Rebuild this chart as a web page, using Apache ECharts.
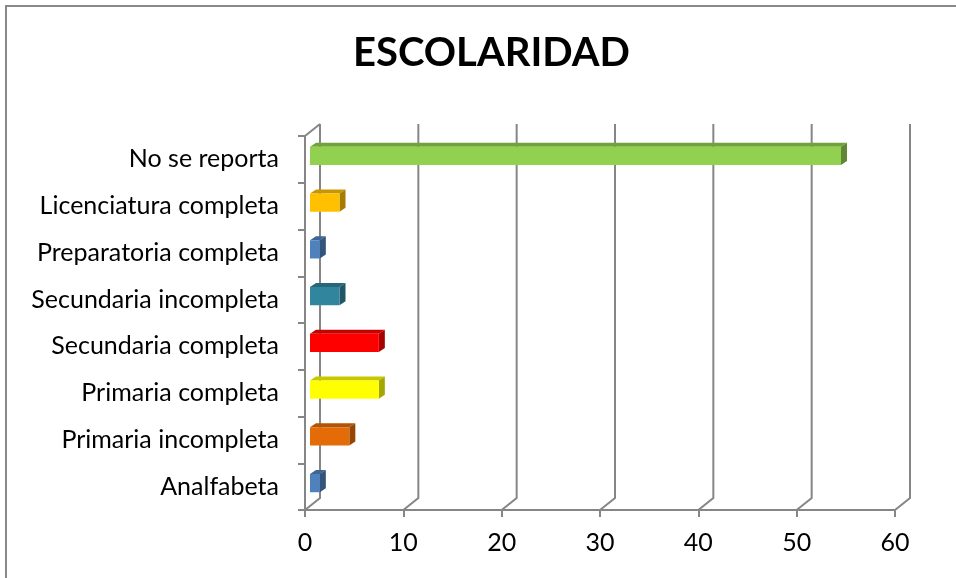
<!DOCTYPE html>
<html>
<head>
<meta charset="utf-8">
<script src="https://cdn.jsdelivr.net/npm/echarts@6/dist/echarts.min.js"></script>
<style>
  html, body { margin: 0; padding: 0; background: #fff; }
  #chart { width: 956px; height: 578px; }
</style>
</head>
<body>
<div id="chart"></div>
<script>
// categories bottom to top
const categories = ['Analfabeta', 'Primaria incompleta', 'Primaria completa', 'Secundaria completa',
  'Secundaria incompleta', 'Preparatoria completa', 'Licenciatura completa', 'No se reporta']
const values = [1, 4, 7, 7, 3, 1, 3, 54]
const barColors = ['#4F81BD', '#E36C09', '#FFFF00', '#FF0000', '#31859C', '#4F81BD', '#FFC000', '#92D050']
const xTicks = [0, 10, 20, 30, 40, 50, 60]

const DX = 15, DY = -12   // back wall offset
const BX = 6, BY = -4     // bar depth

function shade(hex, f) {
  let n = parseInt(hex.slice(1), 16)
  let r = Math.round(((n >> 16) & 255) * f)
  let g = Math.round(((n >> 8) & 255) * f)
  let b = Math.round((n & 255) * f)
  return 'rgb(' + r + ',' + g + ',' + b + ')'
}

let chart = echarts.init(document.getElementById('chart'))
let font = 'Lato, "Open Sans", sans-serif'

let options = {
  backgroundColor: '#fff',
  animation: false,
  title: {
    text: 'ESCOLARIDAD',
    left: 348,
    top: 28,
    textStyle: { fontSize: 40, fontWeight: 'bold', color: '#000', fontFamily: font }
  },
  graphic: [{
    type: 'polyline',
    shape: { points: [[6, 578], [6, 6], [956, 6]] },
    style: { stroke: '#898989', lineWidth: 2, fill: null }
  }],
  grid: { left: 305, right: 61, top: 136, bottom: 68 },
  xAxis: {
    type: 'value',
    min: 0, max: 60, interval: 10,
    axisLine: { show: true, lineStyle: { color: '#868686', width: 2 } },
    axisTick: { show: true, length: 7, lineStyle: { color: '#868686', width: 2 } },
    splitLine: { show: false },
    axisLabel: { fontSize: 25, color: '#000', fontFamily: font, margin: 20 }
  },
  yAxis: {
    type: 'category',
    data: categories,
    axisLine: { show: true, lineStyle: { color: '#868686', width: 2 } },
    axisTick: { show: true, length: 7, lineStyle: { color: '#868686', width: 2 } },
    axisLabel: { fontSize: 25, color: '#000', fontFamily: font, margin: 26 }
  },
  series: [
    {
      // back wall grid lines
      type: 'custom',
      data: xTicks.map(t => [t]),
      silent: true,
      z: 1,
      renderItem: function (params, api) {
        let x = api.coord([api.value(0), 0])[0]
        let yb = params.coordSys.y + params.coordSys.height
        let yt = params.coordSys.y
        let children = [{
          type: 'polyline',
          shape: { points: [[x, yb], [x + DX, yb + DY], [x + DX, yt + DY]] },
          style: { stroke: '#868686', lineWidth: 2, fill: null }
        }]
        if (api.value(0) === 0) {
          children.push({
            type: 'line',
            shape: { x1: x, y1: yt, x2: x + DX, y2: yt + DY },
            style: { stroke: '#868686', lineWidth: 2 }
          })
        }
        return { type: 'group', children: children }
      }
    },
    {
      type: 'custom',
      data: values.map((v, i) => [v, i]),
      z: 3,
      renderItem: function (params, api) {
        let i = api.value(1)
        let p0 = api.coord([0, i])
        let p1 = api.coord([api.value(0), i])
        let band = api.size([0, 1])[1]
        let h = band * 0.39
        let x0 = p0[0] + 5, x1 = p1[0] + 5
        let yc = p0[1] - 3.5
        let y0 = yc - h / 2, y1 = yc + h / 2
        let c = barColors[i]
        return {
          type: 'group',
          children: [
            {
              type: 'polygon',
              shape: { points: [[x0, y0], [x0 + BX, y0 + BY], [x1 + BX, y0 + BY], [x1, y0]] },
              style: { fill: shade(c, 0.78) }
            },
            {
              type: 'polygon',
              shape: { points: [[x1, y0], [x1 + BX, y0 + BY], [x1 + BX, y1 + BY], [x1, y1]] },
              style: { fill: shade(c, 0.65) }
            },
            {
              type: 'rect',
              shape: { x: x0, y: y0, width: x1 - x0, height: h },
              style: { fill: c }
            }
          ]
        }
      }
    }
  ]
}
chart.setOption(options)
</script>
</body>
</html>
